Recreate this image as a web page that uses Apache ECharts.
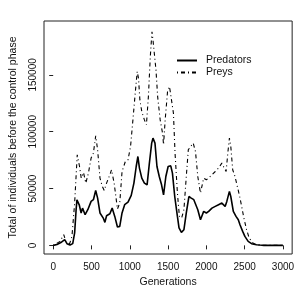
<!DOCTYPE html>
<html>
<head>
<meta charset="utf-8">
<script src="https://cdn.jsdelivr.net/npm/echarts@6/dist/echarts.min.js"></script>
<style>html,body{margin:0;padding:0;background:#fff}#c{width:297px;height:297px}</style>
</head>
<body>
<div id="c"></div>
<script>
const xTicks = [0, 500, 1000, 1500, 2000, 2500, 3000];
const yTicks = [0, 50000, 100000, 150000];

const predGen = [0,50,100,150,180,220,255,280,300,310,340,365,383,417,452,495,525,555,580,611,654,675,697,740,770,804,839,869,899,933,977,1019,1054,1084,1106,1126,1157,1191,1226,1256,1286,1303,1329,1355,1385,1415,1441,1471,1501,1535,1557,1587,1622,1643,1674,1707,1738,1772,1803,1836,1858,1888,1923,1944,1965,2000,2030,2073,2116,2159,2202,2245,2267,2301,2319,2352,2387,2417,2439,2474,2503,2546,2590,2654,2700,2750,3000];
const predVal = [0,800,2500,5000,1500,300,1500,11000,32000,40000,35700,28500,32800,27000,31400,38700,40200,48300,41600,28500,24000,20200,26100,27800,32800,25500,16100,16700,28500,35800,38000,44000,54800,69400,78200,68000,59200,54800,53300,72400,90000,94400,90000,69400,60600,53300,44500,60600,69400,70000,63600,43000,25500,15300,11400,13800,28500,43000,41600,40200,38700,31400,22600,21100,29900,28500,29900,32800,34300,35800,37200,34300,38700,47500,43000,29900,25500,22600,18200,12300,7900,3500,1500,600,300,0,0];

const preyGen = [0,90,138,165,215,245,280,314,344,366,396,426,460,495,525,555,580,611,641,667,697,740,761,796,839,869,899,942,977,1010,1041,1071,1097,1114,1132,1157,1191,1217,1243,1268,1290,1303,1320,1342,1364,1397,1428,1441,1462,1493,1519,1545,1570,1591,1622,1648,1677,1707,1738,1764,1794,1828,1858,1888,1923,1944,1965,2000,2030,2073,2116,2159,2202,2223,2258,2280,2301,2319,2344,2374,2404,2430,2461,2490,2525,2559,2603,2654,2700,3000];
const preyVal = [0,3500,9400,3500,1500,7900,37200,79700,69400,59200,64100,54800,63600,76800,81200,96400,84100,59200,51900,48300,54800,62100,66500,54800,32000,37200,65000,73800,75300,87000,110400,133900,152900,147000,128000,117700,110400,106000,130900,166000,188000,180700,179200,154400,130900,110400,98700,88500,110400,135300,139700,138300,116300,81200,46000,25500,24000,31400,60600,84100,87000,90000,82600,60600,46000,44500,59200,57700,59200,62100,65000,68000,72400,69400,65000,81200,94400,87000,66500,60600,51900,44500,34300,24000,13800,6500,2200,500,0,0];

const seriesNames = ['Predators', 'Preys'];
const xTitle = 'Generations';
const yTitle = 'Total of individuals before the control phase';

const font = '"Liberation Sans", Arial, Helvetica, sans-serif';
const plain = v => String(v);
const chart = echarts.init(document.getElementById('c'));
chart.setOption({
  animation: false,
  backgroundColor: '#fff',
  textStyle: { fontFamily: font },
  grid: { left: 42, right: 4, top: 21, bottom: 43, show: true, borderColor: '#222', borderWidth: 1, backgroundColor: 'transparent' },
  legend: {
    orient: 'vertical', left: 171, top: 50, itemWidth: 20, itemHeight: 12, itemGap: 1,
    itemStyle: { opacity: 0 },
    textStyle: { fontFamily: font, fontSize: 10.5, color: '#111', padding: [0,0,0,4] },
    data: seriesNames
  },
  xAxis: {
    type: 'value', min: -120, max: 3120,
    name: xTitle, nameLocation: 'middle', nameGap: 23,
    nameTextStyle: { fontFamily: font, fontSize: 10.5, color: '#111' },
    axisLine: { show: false },
    splitLine: { show: false },
    axisTick: { show: true, length: 4, customValues: xTicks, lineStyle: { color: '#222' } },
    axisLabel: { customValues: xTicks, formatter: plain, margin: 8, fontSize: 10, color: '#111', fontFamily: font }
  },
  yAxis: {
    type: 'value', min: -7600, max: 197450,
    name: yTitle, nameLocation: 'middle', nameGap: 25,
    nameTextStyle: { fontFamily: font, fontSize: 10.5, color: '#111' },
    axisLine: { show: false },
    splitLine: { show: false },
    axisTick: { show: true, length: 4, customValues: yTicks, lineStyle: { color: '#222' } },
    axisLabel: { customValues: yTicks, formatter: plain, rotate: 90, margin: 6, fontSize: 10, color: '#111', fontFamily: font }
  },
  series: [
    { name: seriesNames[0], type: 'line', symbol: 'none', data: predGen.map((g, i) => [g, predVal[i]]),
      lineStyle: { color: '#000', width: 1.6 }, itemStyle: { color: '#000' } },
    { name: seriesNames[1], type: 'line', symbol: 'none', data: preyGen.map((g, i) => [g, preyVal[i]]),
      lineStyle: { color: '#000', width: 1.1, type: [1, 3, 4, 3] }, itemStyle: { color: '#000' } }
  ]
});
</script>
</body>
</html>
